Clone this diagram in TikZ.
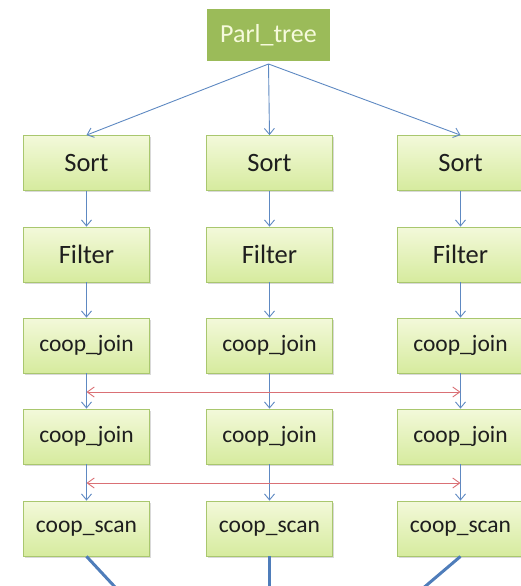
\documentclass[tikz,border=0pt]{standalone}
\usepackage{fontspec}
\setmainfont{Carlito}
\usetikzlibrary{arrows.meta,shadows}

\definecolor{boxedge}{HTML}{A9C76E}
\definecolor{boxtop}{HTML}{F3F9DA}
\definecolor{boxbot}{HTML}{D6EB9E}
\definecolor{textdark}{HTML}{1E1E1E}
\definecolor{rootfill}{HTML}{9BBB59}
\definecolor{roottext}{HTML}{F6FADC}
\definecolor{flowblue}{HTML}{5E89C2}
\definecolor{thickblue}{HTML}{4F7DBA}
\definecolor{linkred}{HTML}{DA7075}

\begin{document}
\begin{tikzpicture}[x=1pt,y=-1pt,
  boxshadow/.style={drop shadow={shadow xshift=1.4pt,shadow yshift=-1.8pt,opacity=0.3}},
  stage/.style={draw=boxedge,line width=0.8pt,top color=boxtop,bottom color=boxbot,
    minimum width=126pt,minimum height=55pt,inner sep=0pt,text=textdark,
    font=\fontsize{26.5}{30}\selectfont,boxshadow},
  coopbox/.style={stage,font=\fontsize{23.5}{28}\selectfont},
  rootbox/.style={fill=rootfill,draw=white,line width=3pt,minimum width=126pt,
    minimum height=55pt,inner sep=0pt,text=roottext,
    font=\fontsize{26}{30}\selectfont,boxshadow},
  flow/.style={draw=flowblue,line width=0.9pt,-{Straight Barb[length=6pt,width=10pt]}},
  link/.style={draw=linkred,line width=0.9pt,
    {Straight Barb[length=7pt,width=10pt]}-{Straight Barb[length=7pt,width=10pt]}},
  feed/.style={draw=thickblue,line width=3pt,-{Straight Barb[length=6pt,width=12pt]}}]

\useasboundingbox (0,0) rectangle (521,586);
\clip (0,0) rectangle (521,586);

% root
\node[rootbox] (root) at (268.5,35) {Parl\_tree};

% three parallel pipelines
\foreach \c/\x in {a/86.5,b/269.5,c/460.5}{
  \node[stage]   (sort\c)   at (\x,163)   {Sort};
  \node[stage]   (filter\c) at (\x,254.5) {Filter};
  \node[coopbox] (joinA\c)  at (\x,345.5) {coop\_join};
  \node[coopbox] (joinB\c)  at (\x,436.5) {coop\_join};
  \node[coopbox] (scan\c)   at (\x,528.5) {coop\_scan};
}

% fan-out from the root
\coordinate (rootout) at (268.5,64);
\foreach \c in {a,b,c}
  \draw[flow] (rootout) -- (sort\c.north);

% vertical flow in each pipeline
\foreach \c in {a,b,c}{
  \draw[flow] (sort\c) -- (filter\c);
  \draw[flow] (filter\c) -- (joinA\c);
  \draw[flow] (joinA\c) -- (joinB\c);
  \draw[flow] (joinB\c) -- (scan\c);
}

% cooperative links between the outer pipelines
\coordinate (linkAl) at (86.5,392);
\coordinate (linkAr) at (460.5,392);
\coordinate (linkBl) at (86.5,483);
\coordinate (linkBr) at (460.5,483);
\draw[link] (linkAl) -- (linkAr);
\draw[link] (linkBl) -- (linkBr);

% outputs running off the bottom
\coordinate (outa) at (128,601);
\coordinate (outb) at (269.5,601);
\coordinate (outc) at (408,601);
\draw[feed] (scana.south) -- (outa);
\draw[feed] (scanb.south) -- (outb);
\draw[feed] (scanc.south) -- (outc);
\end{tikzpicture}
\end{document}
